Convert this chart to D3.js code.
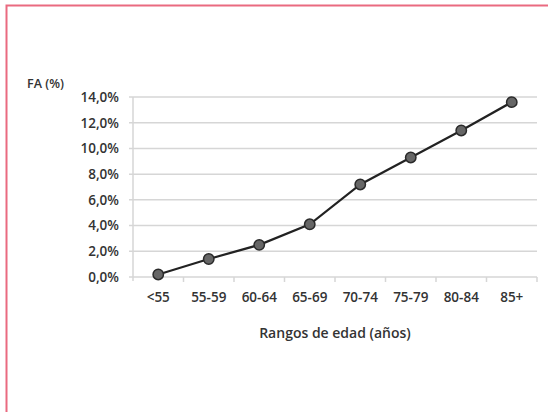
<!DOCTYPE html>
<html><head><meta charset="utf-8">
<script src="https://cdn.jsdelivr.net/npm/d3@7"></script>
<style>html,body{margin:0;padding:0;background:#fff;}svg{display:block;}</style>
</head><body>
<script>
const categories = ["<55","55-59","60-64","65-69","70-74","75-79","80-84","85+"];
const values = [0.2,1.4,2.5,4.1,7.2,9.3,11.4,13.6];
const yTicks = [0,2,4,6,8,10,12,14];
const yLabel = "FA (%)";
const xLabel = "Rangos de edad (años)";

const W = 548, H = 412;
const svg = d3.select("body").append("svg").attr("width", W).attr("height", H);
svg.append("rect").attr("width", W).attr("height", H).attr("fill", "#fff");
// pink frame
svg.append("path").attr("d", `M6.5,${H} L6.5,5.5 L${W},5.5`)
  .attr("fill","none").attr("stroke","#ea6a80").attr("stroke-width",2);

const m = {left:133, right:537, top:97, bottom:277};
const x = d3.scaleBand().domain(categories).range([m.left, m.right]);
const y = d3.scaleLinear().domain([0,14]).range([m.bottom, m.top]);
const font = "'Open Sans', sans-serif";
const tc = "#333";

// gridlines
svg.append("g").selectAll("line").data(yTicks).join("line")
  .attr("x1", m.left-4).attr("x2", m.right)
  .attr("y1", d=>y(d)).attr("y2", d=>y(d))
  .attr("stroke","#d6d6d6").attr("stroke-width",1.5);
// left axis line
svg.append("line").attr("x1",m.left).attr("x2",m.left).attr("y1",m.top).attr("y2",m.bottom+4)
  .attr("stroke","#d6d6d6").attr("stroke-width",1.5);
// x tick marks at boundaries
const bounds = categories.map(c=>x(c)).concat([m.right]);
svg.append("g").selectAll("line").data(bounds.slice(1)).join("line")
  .attr("x1",d=>d).attr("x2",d=>d).attr("y1",m.bottom).attr("y2",m.bottom+5)
  .attr("stroke","#d6d6d6").attr("stroke-width",1.5);

// y tick labels
svg.append("g").selectAll("text").data(yTicks).join("text")
  .attr("x", 119).attr("y", d=>y(d)).attr("dy","0.36em")
  .attr("text-anchor","end").attr("font-family",font).attr("font-size",13.5)
  .attr("font-weight",600).attr("fill",tc)
  .text(d=>d.toFixed(1).replace(".",",")+"%");
// x tick labels
svg.append("g").selectAll("text").data(categories).join("text")
  .attr("x", d=>x(d)+x.bandwidth()/2).attr("y", 302)
  .attr("text-anchor","middle").attr("font-family",font).attr("font-size",13.5)
  .attr("font-weight",600).attr("fill",tc).text(d=>d);
// titles
svg.append("text").attr("x",27).attr("y",88).attr("font-family",font).attr("font-size",12.5)
  .attr("font-weight",600).attr("fill",tc).text(yLabel);
svg.append("text").attr("x",(m.left+m.right)/2).attr("y",338).attr("text-anchor","middle")
  .attr("font-family",font).attr("font-size",14).attr("font-weight",600).attr("fill",tc).text(xLabel);

// line
const line = d3.line().x((d,i)=>x(categories[i])+x.bandwidth()/2).y(d=>y(d));
svg.append("path").datum(values).attr("d",line).attr("fill","none")
  .attr("stroke","#222").attr("stroke-width",2.2);
svg.append("g").selectAll("circle").data(values).join("circle")
  .attr("cx",(d,i)=>x(categories[i])+x.bandwidth()/2).attr("cy",d=>y(d)).attr("r",5.2)
  .attr("fill","#666").attr("stroke","#2a2a2a").attr("stroke-width",1.5);
</script>
</body></html>
